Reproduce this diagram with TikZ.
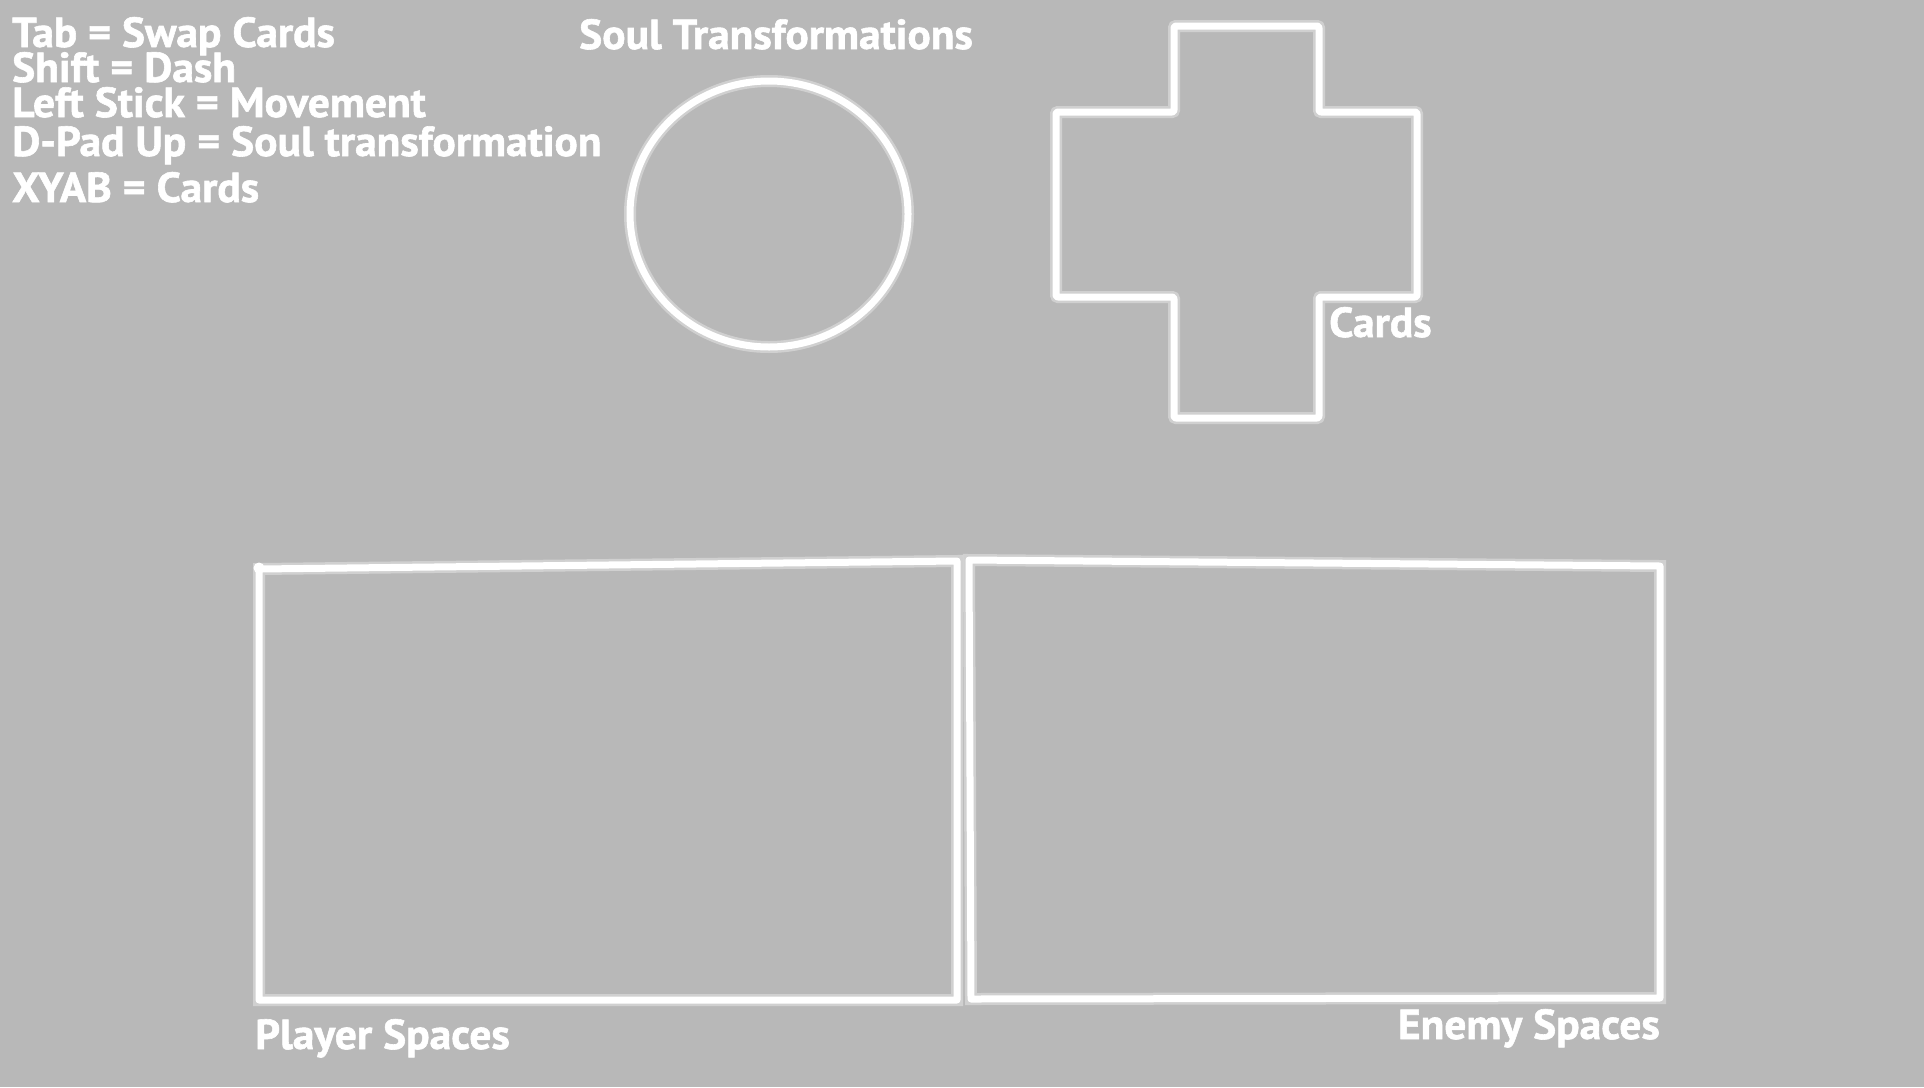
\documentclass[tikz,border=0pt]{standalone}
\usepackage{fontspec}
\setmainfont{PT Sans}[FakeBold=1.4, FakeStretch=1.035]
\definecolor{bg}{HTML}{B8B8B8}
\begin{document}
\begin{tikzpicture}[x=1pt,y=-1pt,
  glow/.style={draw=white, line width=7pt, line join=round, line cap=round,
    preaction={draw=white, opacity=0.35, line width=12pt}},
  lbl/.style={text=white, font=\bfseries\fontsize{42}{42}\selectfont, inner sep=0pt, anchor=base west}]
\fill[bg] (0,0) rectangle (1924,1087);
\useasboundingbox (0,0) rectangle (1924,1087);
% texts
\node[lbl] (tab) at (12,47) {Tab = Swap Cards};
\node[lbl] (shift) at (12,82) {Shift = Dash};
\node[lbl] (leftstick) at (12,117) {Left Stick = Movement};
\node[lbl] (dpad) at (12,156) {D-Pad Up = Soul transformation};
\node[lbl] (xyab) at (12,202) {XYAB = Cards};
\node[lbl] (soul) at (579,49) {Soul Transformations};
\node[lbl] (cards) at (1329,337) {Cards};
\node[lbl] (player) at (255,1049) {Player Spaces};
\node[lbl, anchor=base east] (enemy) at (1660,1039) {Enemy Spaces};
% circle
\draw[glow] (769,214) ellipse [x radius=139, y radius=133];
% cross
\draw[glow, rounded corners=2pt] (1174,26) -- (1319,26) -- (1319,112) -- (1417,112) -- (1417,297) -- (1319,297) -- (1319,418) -- (1174,418) -- (1174,297) -- (1056,297) -- (1056,112) -- (1174,112) -- cycle;
% player spaces
\draw[glow] (259,569) -- (957,561) -- (957,1000) -- (259,1000) -- cycle;
\fill[white] (259,568) circle (5.5);
% enemy spaces
\draw[glow] (969,560) -- (1660,566) -- (1660,998) -- (971,999) -- cycle;
\end{tikzpicture}
\end{document}
